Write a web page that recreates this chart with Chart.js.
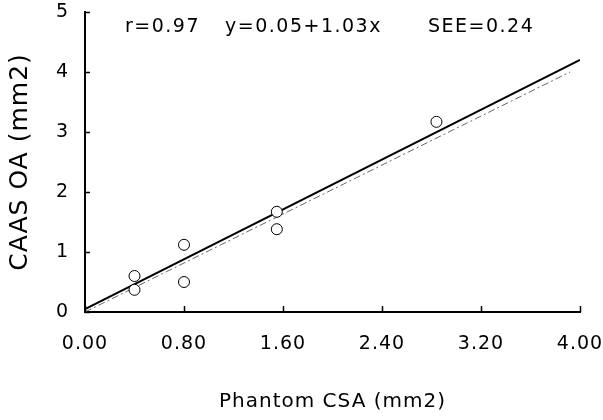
<!DOCTYPE html>
<html>
<head>
<meta charset="utf-8">
<script src="https://cdn.jsdelivr.net/npm/chart.js@4/dist/chart.umd.min.js"></script>
<style>
html, body { margin: 0; padding: 0; background: #fff; }
</style>
</head>
<body>
<canvas id="myChart" width="603" height="420"></canvas>
<script>
// measured points
const phantomCSA = [0.40, 0.40, 0.80, 0.80, 1.55, 1.55, 2.84];
const caasOA = [0.60, 0.37, 1.12, 0.50, 1.67, 1.38, 3.17];
// regression line (solid) and reference line (dash-dot)
const fitX = [0.00, 4.00];
const fitY = [0.05, 4.20];
const refX = [0.00, 3.92];
const refY = [0.00, 4.00];
const xTicks = [0.00, 0.80, 1.60, 2.40, 3.20, 4.00];
const yTicks = [0, 1, 2, 3, 4, 5];
const statsText = ['r=0.97', 'y=0.05+1.03x', 'SEE=0.24'];

const FONT = '"DejaVu Sans", Arial, sans-serif';

function toPoints(xs, ys) {
    let pts = [];
    for (let i = 0; i < xs.length; i++) {
        pts.push({x: xs[i], y: ys[i]});
    }
    return pts;
}

// letter spacing gets lost on canvas resize, so set it again before layout and draw
const spacing = {
    id: 'spacing',
    beforeUpdate(chart) { chart.ctx.letterSpacing = '1px'; },
    beforeDraw(chart) { chart.ctx.letterSpacing = '1px'; }
};

// inward tick marks + stats line
const extras = {
    id: 'extras',
    afterDraw(chart) {
        const ctx = chart.ctx;
        const xs = chart.scales.x;
        const ys = chart.scales.y;
        const area = chart.chartArea;
        ctx.save();
        ctx.strokeStyle = '#000';
        ctx.lineWidth = 1.5;
        ctx.beginPath();
        xTicks.forEach(v => {
            const px = Math.round(xs.getPixelForValue(v)) + 0.5;
            ctx.moveTo(px, area.bottom);
            ctx.lineTo(px, area.bottom - 6);
        });
        yTicks.forEach(v => {
            const py = Math.round(ys.getPixelForValue(v)) + 0.5;
            ctx.moveTo(area.left, py);
            ctx.lineTo(area.left + 5, py);
        });
        ctx.stroke();

        ctx.letterSpacing = '1.5px';
        ctx.font = '19px ' + FONT;
        ctx.fillStyle = '#000';
        ctx.textBaseline = 'middle';
        ctx.textAlign = 'left';
        const starts = [125, 225, 428];
        statsText.forEach((t, i) => ctx.fillText(t, starts[i], 27));
        ctx.restore();
    }
};

const ctx = document.getElementById('myChart').getContext('2d');
const myChart = new Chart(ctx, {
    type: 'scatter',
    data: {
        datasets: [{
            label: 'data',
            data: toPoints(phantomCSA, caasOA),
            pointStyle: 'circle',
            pointRadius: 5.5,
            pointBorderWidth: 1,
            pointBorderColor: '#000',
            pointBackgroundColor: '#fff',
            showLine: false,
            order: 0
        }, {
            label: 'fit',
            data: toPoints(fitX, fitY),
            showLine: true,
            borderColor: '#000',
            borderWidth: 2,
            pointRadius: 0,
            order: 1
        }, {
            label: 'ref',
            data: toPoints(refX, refY),
            showLine: true,
            borderColor: '#666',
            borderWidth: 1,
            borderDash: [7, 3, 2, 3],
            pointRadius: 0,
            order: 2
        }]
    },
    options: {
        responsive: false,
        animation: false,
        events: [],
        layout: { padding: { top: 12, right: 23, left: 0, bottom: 0 } },
        plugins: {
            legend: { display: false },
            tooltip: { enabled: false }
        },
        scales: {
            x: {
                type: 'linear',
                min: 0,
                max: 4,
                afterBuildTicks: s => { s.ticks = xTicks.map(v => ({value: v})); },
                afterFit: s => { s.height = 108; s.paddingLeft = 0; s.paddingRight = 0; },
                grid: { display: false },
                border: { display: true, color: '#000', width: 2 },
                ticks: {
                    color: '#000',
                    padding: 13,
                    maxRotation: 0,
                    font: { family: FONT, size: 19 },
                    callback: v => v.toFixed(2)
                },
                title: {
                    display: true,
                    text: 'Phantom CSA (mm2)',
                    color: '#000',
                    padding: { top: 0, bottom: 6 },
                    font: { family: FONT, size: 20 }
                }
            },
            y: {
                type: 'linear',
                min: 0,
                max: 5,
                afterBuildTicks: s => { s.ticks = yTicks.map(v => ({value: v})); },
                afterFit: s => { s.width = 85; s.paddingTop = 0; s.paddingBottom = 0; },
                grid: { display: false },
                border: { display: true, color: '#000', width: 2 },
                ticks: {
                    color: '#000',
                    padding: 8,
                    font: { family: FONT, size: 19 }
                },
                title: {
                    display: true,
                    text: 'CAAS OA (mm2)',
                    color: '#000',
                    padding: { top: 5, bottom: 0 },
                    font: { family: FONT, size: 25 }
                }
            }
        }
    },
    plugins: [spacing, extras]
});
</script>
</body>
</html>
